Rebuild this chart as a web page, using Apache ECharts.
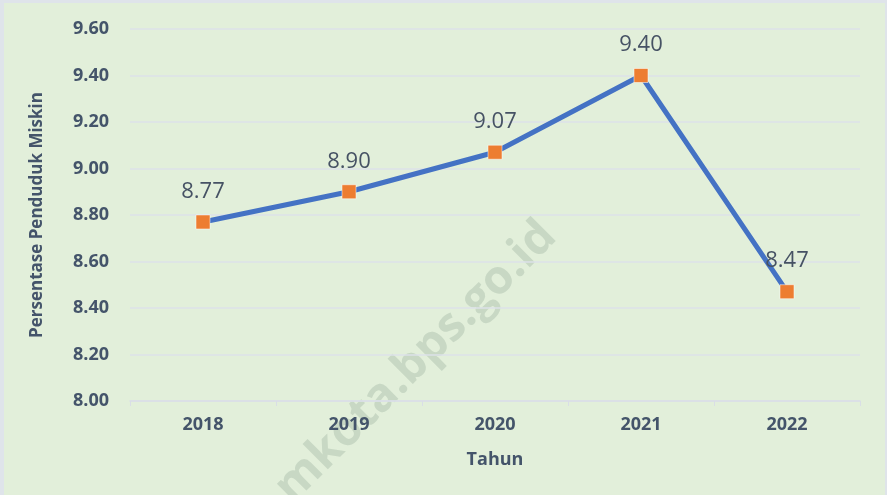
<!DOCTYPE html>
<html>
<head>
<meta charset="utf-8">
<script src="https://cdn.jsdelivr.net/npm/echarts@6/dist/echarts.min.js"></script>
<style>
  html, body { margin: 0; padding: 0; background: #fff; }
  #chart {
    width: 887px; height: 495px; box-sizing: border-box;
    background: #e2efda;
    border-top: 3px solid #dfe4ea; border-left: 4px solid #dfe4ea; border-right: 2px solid #dfe4ea;
  }
</style>
</head>
<body>
<div id="chart"></div>
<script>
const years = ['2018', '2019', '2020', '2021', '2022'];
const poorPct = [8.77, 8.90, 9.07, 9.40, 8.47];
const yMin = 8.0, yMax = 9.6, yStep = 0.2;

const textColor = '#44546a';
const chart = echarts.init(document.getElementById('chart'));

chart.setOption({
    backgroundColor: 'transparent',
    grid: { left: 126, right: 25, top: 26, bottom: 94 },
    graphic: [{
        type: 'text',
        x: 412, y: 359,
        rotation: Math.PI / 4,
        style: {
            text: 'mkota.bps.go.id',
            x: 0, y: 0,
            font: 'bold 47px "Open Sans", sans-serif',
            fill: '#c8d8c4',
            align: 'center',
            verticalAlign: 'middle'
        },
        z: 0
    }],
    xAxis: {
        type: 'category',
        data: years,
        boundaryGap: true,
        name: 'Tahun',
        nameLocation: 'middle',
        nameGap: 50,
        nameTextStyle: { color: textColor, fontSize: 18, fontWeight: 'bold', fontFamily: 'Open Sans' },
        axisLine: { lineStyle: { color: '#d9dee6', width: 1.5 } },
        axisTick: { show: true, length: 5, lineStyle: { color: '#d9dee6' } },
        axisLabel: { color: textColor, fontSize: 18, fontWeight: 'bold', fontFamily: 'Open Sans', margin: 15 }
    },
    yAxis: {
        type: 'value',
        min: yMin, max: yMax, interval: yStep,
        name: 'Persentase Penduduk Miskin',
        nameLocation: 'middle',
        nameGap: 84,
        nameTextStyle: { color: textColor, fontSize: 17, fontWeight: 'bold', fontFamily: 'Open Sans' },
        axisLine: { show: false },
        axisTick: { show: false },
        splitLine: { lineStyle: { color: '#dde2e8', width: 1.5 } },
        axisLabel: {
            color: textColor, fontSize: 18, fontWeight: 'bold', fontFamily: 'Open Sans', margin: 21,
            formatter: (v) => v.toFixed(2)
        }
    },
    series: [{
        type: 'line',
        data: poorPct,
        z: 3,
        lineStyle: { color: '#4472c4', width: 5 },
        symbol: 'rect',
        symbolSize: 14,
        itemStyle: { color: '#ed7d31', borderColor: 'rgba(255,255,255,0.5)', borderWidth: 1 },
        label: {
            show: true,
            position: 'top',
            distance: 12,
            color: '#465264',
            fontSize: 22,
            fontFamily: 'Open Sans',
            formatter: (p) => p.value.toFixed(2)
        },
        animation: false
    }],
    animation: false
});
</script>
</body>
</html>
